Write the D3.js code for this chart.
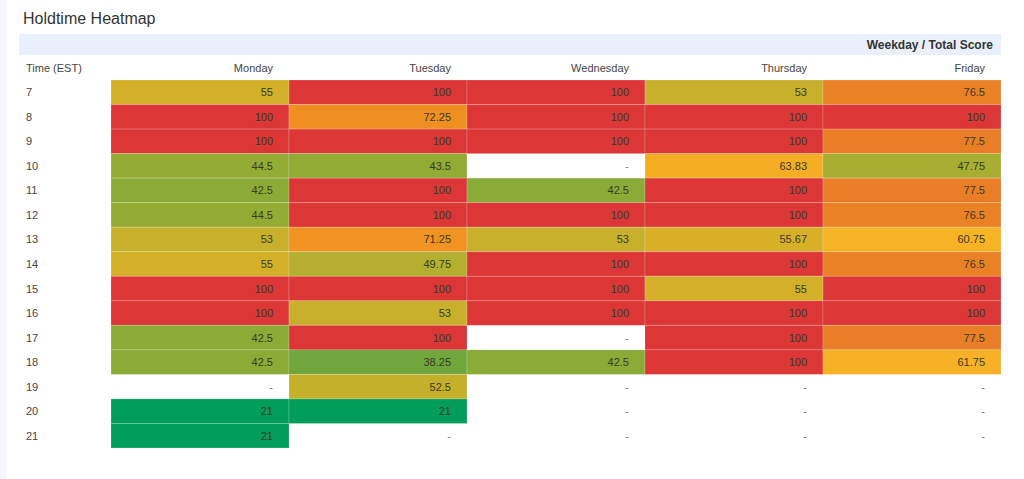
<!DOCTYPE html>
<html>
<head>
<meta charset="utf-8">
<script src="https://cdn.jsdelivr.net/npm/d3@7"></script>
<style>
  html, body { margin: 0; padding: 0; background: #ffffff; }
  body { width: 1024px; height: 479px; overflow: hidden; font-family: "Liberation Sans", Arial, Helvetica, sans-serif; }
</style>
</head>
<body>
<svg id="chart" width="1024" height="479"></svg>
<script>
// ---- data ----
const hours = ["7","8","9","10","11","12","13","14","15","16","17","18","19","20","21"];
const days = ["Monday","Tuesday","Wednesday","Thursday","Friday"];
const monday    = [55, 100, 100, 44.5, 42.5, 44.5, 53, 55, 100, 100, 42.5, 42.5, null, 21, 21];
const tuesday   = [100, 72.25, 100, 43.5, 100, 100, 71.25, 49.75, 100, 53, 100, 38.25, 52.5, 21, null];
const wednesday = [100, 100, 100, null, 42.5, 100, 53, 100, 100, 100, null, 42.5, null, null, null];
const thursday  = [53, 100, 100, 63.83, 100, 100, 55.67, 100, 55, 100, 100, 100, null, null, null];
const friday    = [76.5, 100, 77.5, 47.75, 77.5, 76.5, 60.75, 76.5, 100, 100, 77.5, 61.75, null, null, null];
const series = [monday, tuesday, wednesday, thursday, friday];

const colorDomain = [21, 38.25, 42.5, 47.75, 53, 55.67, 60.75, 64, 72, 77.5, 100];
const colorRange  = ["#009e5a","#70a63c","#8aab36","#a8ae31","#c8b02c","#d7b027","#f6b325","#f5ad24","#ef9022","#ea7e26","#dc3636"];

// ---- layout ----
const svg = d3.select("#chart");
const gridLeft = 111, gridRight = 1001, gridTop = 80, gridBottom = 448;

svg.append("rect").attr("x", 0).attr("y", 0).attr("width", 6).attr("height", 479).attr("fill", "#f4f6fb");

svg.append("text").attr("x", 23).attr("y", 24).attr("font-size", 16).attr("fill", "#333")
  .text("Holdtime Heatmap");

svg.append("rect").attr("x", 19).attr("y", 34).attr("width", 982).attr("height", 21).attr("fill", "#e9f0fc");
svg.append("text").attr("x", 993).attr("y", 49).attr("text-anchor", "end").attr("font-size", 12)
  .attr("font-weight", "bold").attr("fill", "#333").text("Weekday / Total Score");

const x = d3.scaleBand().domain(days).range([gridLeft, gridRight]);
const y = d3.scaleBand().domain(hours).range([gridTop, gridBottom]);
const color = d3.scaleLinear().domain(colorDomain).range(colorRange).interpolate(d3.interpolateRgb);

// header row
svg.append("text").attr("x", 26).attr("y", 72).attr("font-size", 11).attr("fill", "#444").text("Time (EST)");
svg.selectAll("text.day").data(days).join("text").attr("class", "day")
  .attr("x", d => x(d) + x.bandwidth() - 16).attr("y", 72)
  .attr("text-anchor", "end").attr("font-size", 11).attr("fill", "#444").text(d => d);

// row labels
svg.selectAll("text.hour").data(hours).join("text").attr("class", "hour")
  .attr("x", 26).attr("y", d => y(d) + y.bandwidth() / 2 + 4)
  .attr("font-size", 11).attr("fill", "#444").text(d => d);

// cells
const cells = [];
days.forEach((d, i) => hours.forEach((h, j) => cells.push({ day: d, hour: h, v: series[i][j] })));

const g = svg.append("g");
g.selectAll("rect.cell").data(cells.filter(c => c.v !== null)).join("rect").attr("class", "cell")
  .attr("x", c => x(c.day)).attr("y", c => y(c.hour))
  .attr("width", x.bandwidth()).attr("height", y.bandwidth())
  .attr("fill", c => color(c.v))
  .attr("stroke", "rgba(255,255,255,0.18)").attr("stroke-width", 1);

g.selectAll("text.val").data(cells).join("text").attr("class", "val")
  .attr("x", c => x(c.day) + x.bandwidth() - 16)
  .attr("y", c => y(c.hour) + y.bandwidth() / 2 + 4)
  .attr("text-anchor", "end").attr("font-size", 11)
  .attr("fill", c => c.v === null ? "#777" : "#3a3a2a")
  .text(c => c.v === null ? "-" : String(c.v));
</script>
</body>
</html>
